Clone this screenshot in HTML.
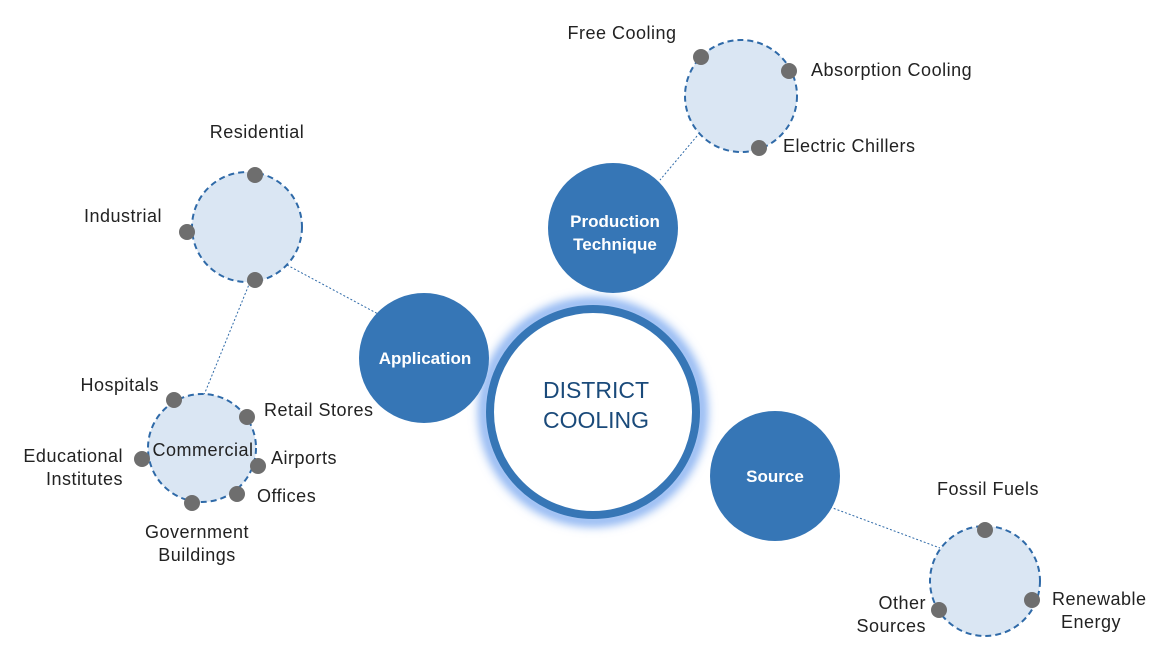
<!DOCTYPE html>
<html><head><meta charset="utf-8"><style>
body{margin:0;background:#fff;}
svg text{font-family:"Liberation Sans",Arial,sans-serif;}
</style></head><body>
<svg width="1170" height="661" viewBox="0 0 1170 661" xmlns="http://www.w3.org/2000/svg">
<defs>
<filter id="glow" x="-30%" y="-30%" width="160%" height="160%"><feGaussianBlur stdDeviation="5"/></filter>
</defs>
<g stroke="#2f6aa8" stroke-width="1" stroke-dasharray="2,2" fill="none">
<line x1="287" y1="265" x2="380" y2="315"/>
<line x1="250" y1="282" x2="204" y2="395"/>
<line x1="697" y1="136" x2="660" y2="180"/>
<line x1="830" y1="507" x2="940" y2="548"/>
</g>
<g fill="#dae6f3" stroke="#2f6aa8" stroke-width="2" stroke-dasharray="6,4">
<circle cx="247" cy="227" r="55"/>
<circle cx="202" cy="448" r="54"/>
<circle cx="741" cy="96" r="56"/>
<circle cx="985" cy="581" r="55"/>
</g>
<g fill="#6e6e6e">
<circle cx="255" cy="175" r="8"/><circle cx="187" cy="232" r="8"/><circle cx="255" cy="280" r="8"/>
<circle cx="174" cy="400" r="8"/><circle cx="247" cy="417" r="8"/><circle cx="142" cy="459" r="8"/><circle cx="258" cy="466" r="8"/><circle cx="237" cy="494" r="8"/><circle cx="192" cy="503" r="8"/>
<circle cx="701" cy="57" r="8"/><circle cx="789" cy="71" r="8"/><circle cx="759" cy="148" r="8"/>
<circle cx="985" cy="530" r="8"/><circle cx="1032" cy="600" r="8"/><circle cx="939" cy="610" r="8"/>
</g>
<circle cx="593" cy="412" r="109" fill="none" stroke="#7aa8f0" stroke-width="10" filter="url(#glow)"/>
<circle cx="593" cy="412" r="103" fill="#fff" stroke="#3676b6" stroke-width="8"/>
<g fill="#3676b6">
<circle cx="424" cy="358" r="65"/>
<circle cx="613" cy="228" r="65"/>
<circle cx="775" cy="476" r="65"/>
</g>
<g fill="#fff" font-weight="bold" font-size="17" text-anchor="middle">
<text x="425" y="364">Application</text>
<text x="615" y="227">Production</text>
<text x="615" y="250">Technique</text>
<text x="775" y="482">Source</text>
</g>
<g fill="#1a4a7a" font-size="23" text-anchor="middle">
<text x="596" y="398">DISTRICT</text>
<text x="596" y="428">COOLING</text>
</g>
<g fill="#222" font-size="18" letter-spacing="0.5">
<text x="257" y="138" text-anchor="middle">Residential</text>
<text x="162" y="222" text-anchor="end">Industrial</text>
<text x="159" y="391" text-anchor="end">Hospitals</text>
<text x="264" y="416">Retail Stores</text>
<text x="203" y="456" text-anchor="middle">Commercial</text>
<text x="123" y="462" text-anchor="end">Educational</text>
<text x="123" y="485" text-anchor="end">Institutes</text>
<text x="271" y="464">Airports</text>
<text x="257" y="502">Offices</text>
<text x="197" y="538" text-anchor="middle">Government</text>
<text x="197" y="561" text-anchor="middle">Buildings</text>
<text x="622" y="39" text-anchor="middle">Free Cooling</text>
<text x="811" y="76">Absorption Cooling</text>
<text x="783" y="152">Electric Chillers</text>
<text x="988" y="495" text-anchor="middle">Fossil Fuels</text>
<text x="1052" y="605">Renewable</text>
<text x="1061" y="628">Energy</text>
<text x="926" y="609" text-anchor="end">Other</text>
<text x="926" y="632" text-anchor="end">Sources</text>
</g>
</svg>
</body></html>
